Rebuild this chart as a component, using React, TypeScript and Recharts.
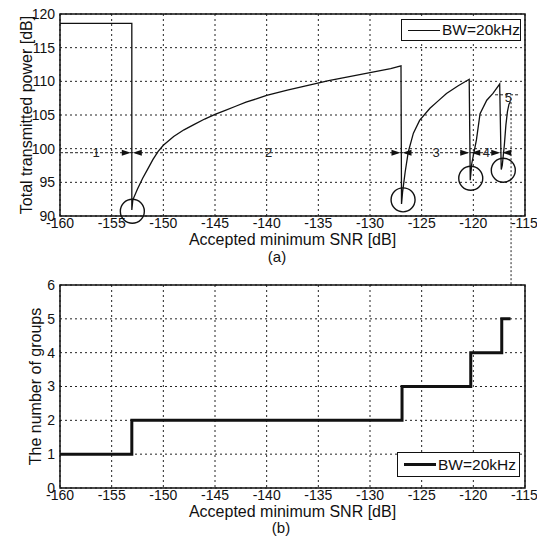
import {
  ComposedChart,
  Line,
  Scatter,
  XAxis,
  YAxis,
  CartesianGrid,
  ReferenceArea,
  ReferenceDot,
  ReferenceLine,
  Legend,
} from "recharts";

const FONT = "'Liberation Sans', Arial, sans-serif";

// axes
const SNR_TICKS = [-160, -155, -150, -145, -140, -135, -130, -125, -120, -115];
const POWER_TICKS = [90, 95, 100, 105, 110, 115, 120];
const GROUP_TICKS = [0, 1, 2, 3, 4, 5, 6];

// (a) total transmitted power vs accepted minimum SNR
const POWER_SNR = [
  -160, -153.05, -153.05, -152.95, -152.5, -152, -151.5, -151, -150.5, -150,
  -149, -148, -147, -146, -145, -144, -143, -142, -141, -140, -138, -136,
  -134, -132, -130, -128, -127.0, -126.95, -126.85, -126.6, -126.3, -125.8,
  -125.2, -124.2, -123.4, -122.6, -121.5, -120.4, -120.3, -120.15, -119.7,
  -119.35, -118.7, -118.1, -117.45, -117.3, -117.2, -117.0, -116.85, -116.7,
  -116.55, -116.4,
];
const POWER_DB = [
  118.6, 118.6, 90.9, 92.4, 94.0, 95.6, 97.0, 98.4, 99.6, 100.5, 101.8,
  102.8, 103.6, 104.4, 105.1, 105.7, 106.3, 106.9, 107.4, 107.9, 108.7,
  109.4, 110.1, 110.7, 111.3, 111.9, 112.3, 91.8, 93.5, 96.5, 99.5, 102.3,
  104.2, 106.0, 107.1, 108.2, 109.3, 110.3, 95.3, 97.8, 101.3, 105.2, 107.2,
  108.2, 109.6, 96.9, 97.5, 100.5, 103.5, 105.5, 106.6, 107.0,
];

// (b) number of groups
const GROUP_SNR = [-160, -153.05, -126.9, -120.25, -117.25, -116.4];
const GROUP_COUNT = [1, 2, 3, 4, 5, 5];

// annotations on (a)
const BOUNDARY_SNR = [-153.05, -126.95, -120.3, -117.3];
const ARROW_DB = 99.4;
const ZONE_SNR = [-156.5, -139.8, -123.6, -118.75];
const ZONE_NAMES = ["1", "2", "3", "4"];
const DIP_SNR = [-153.0, -126.8, -120.25, -117.1];
const DIP_DB = [90.7, 92.4, 95.6, 96.8];

const powerData = POWER_SNR.map((x, i) => ({ x, p: POWER_DB[i] }));
const groupData = GROUP_SNR.map((x, i) => ({ x, g: GROUP_COUNT[i] }));
const arrowData = BOUNDARY_SNR.map((x) => ({ x, y: ARROW_DB }));
const zoneData = ZONE_SNR.map((x, i) => ({ x, y: ARROW_DB, t: ZONE_NAMES[i] }));

const tickStyle = { fill: "#111", fontSize: 14, fontFamily: FONT };
const labelStyle = { fill: "#111", fontSize: 16, fontFamily: FONT };

function ArrowPair(props: any) {
  const { cx, cy } = props;
  return (
    <g fill="#111">
      <polygon points={`${cx - 1},${cy} ${cx - 10},${cy - 3} ${cx - 10},${cy + 3}`} />
      <polygon points={`${cx + 1},${cy} ${cx + 10},${cy - 3} ${cx + 10},${cy + 3}`} />
    </g>
  );
}

function ZoneLabel(props: any) {
  const { cx, cy, payload } = props;
  return (
    <text x={cx} y={cy} dy="0.35em" textAnchor="middle" fontSize={13} fontFamily={FONT} fill="#222">
      {payload.t}
    </text>
  );
}

function LegendBox({ thick }: { thick: boolean }) {
  return (
    <div
      style={{
        boxSizing: "border-box",
        width: "100%",
        height: "100%",
        border: "1.5px solid #111",
        background: "#fff",
        display: "flex",
        alignItems: "center",
        paddingLeft: 6,
        fontFamily: FONT,
        fontSize: 15.5,
        color: "#111",
      }}
    >
      <span
        style={{
          display: "inline-block",
          width: 32,
          height: 0,
          borderTop: `${thick ? 3 : 1}px solid #111`,
          marginRight: 2,
        }}
      />
      BW=20kHz
    </div>
  );
}

export default function App() {
  return (
    <div
      style={{
        position: "absolute",
        left: 0,
        top: 0,
        width: 537,
        height: 544,
        background: "#fff",
      }}
    >
      <div style={{ position: "absolute", left: 0, top: 250 }}>
        <ComposedChart
          width={537}
          height={294}
          margin={{ top: 35, right: 12, bottom: 24, left: 0 }}
        >
          <CartesianGrid stroke="#222" strokeDasharray="2 3" />
          <XAxis
            dataKey="x"
            type="number"
            domain={[-160, -115]}
            ticks={SNR_TICKS}
            axisLine={false}
            tickLine={false}
            tickSize={2}
            tickMargin={0}
            height={32}
            tick={tickStyle}
            label={{ value: "Accepted minimum SNR [dB]", position: "insideBottom", offset: 3, style: labelStyle }}
          />
          <YAxis
            type="number"
            domain={[0, 6]}
            ticks={GROUP_TICKS}
            axisLine={false}
            tickLine={false}
            tickSize={5}
            tickMargin={0}
            width={60}
            tick={tickStyle}
            label={{
              value: "The number of groups",
              angle: -90,
              position: "insideLeft",
              offset: 35,
              style: { ...labelStyle, textAnchor: "middle" },
            }}
          />
          <Line
            data={groupData}
            dataKey="g"
            type="stepAfter"
            stroke="#111"
            strokeWidth={3}
            dot={false}
            isAnimationActive={false}
          />
          <ReferenceArea x1={-160} x2={-115} y1={0} y2={6} fill="none" stroke="#111" strokeWidth={1.5} />
          <Legend
            layout="horizontal"
            verticalAlign="middle"
            align="center"
            content={() => <LegendBox thick />}
            wrapperStyle={{ position: "absolute", left: 397, top: 202, width: 123, height: 25 }}
          />
        </ComposedChart>
      </div>

      <div style={{ position: "absolute", left: 0, top: 0, zIndex: 1 }}>
        <ComposedChart
          width={537}
          height={300}
          margin={{ top: 14, right: 12, bottom: 50, left: 0 }}
        >
          <CartesianGrid stroke="#222" strokeDasharray="2 3" />
          <XAxis
            dataKey="x"
            type="number"
            domain={[-160, -115]}
            ticks={SNR_TICKS}
            axisLine={false}
            tickLine={false}
            tickSize={2}
            tickMargin={0}
            height={34}
            tick={tickStyle}
            label={{ value: "Accepted minimum SNR [dB]", position: "insideBottom", offset: 5, style: labelStyle }}
          />
          <YAxis
            type="number"
            domain={[90, 120]}
            ticks={POWER_TICKS}
            axisLine={false}
            tickLine={false}
            tickSize={5}
            tickMargin={0}
            width={60}
            tick={tickStyle}
            label={{
              value: "Total transmitted power [dB]",
              angle: -90,
              position: "insideLeft",
              offset: 26,
              style: { ...labelStyle, textAnchor: "middle" },
            }}
          />
          <ReferenceLine
            segment={[{ x: -160, y: ARROW_DB }, { x: -117.3, y: ARROW_DB }]}
            stroke="#222"
            strokeDasharray="3 2"
            ifOverflow="visible"
          />
          <ReferenceLine
            segment={[{ x: -117.9, y: 108 }, { x: -115.6, y: 108 }]}
            stroke="#222"
            strokeDasharray="3 2"
            ifOverflow="visible"
          />
          <ReferenceLine
            segment={[{ x: -116.35, y: 107.5 }, { x: -116.35, y: 79.75 }]}
            stroke="#222"
            strokeDasharray="2 2"
            ifOverflow="visible"
          />
          <Line
            data={powerData}
            dataKey="p"
            type="linear"
            stroke="#111"
            strokeWidth={1.3}
            dot={false}
            isAnimationActive={false}
          />
          <Scatter data={arrowData} dataKey="y" shape={ArrowPair} isAnimationActive={false} />
          <Scatter data={zoneData} dataKey="y" shape={ZoneLabel} isAnimationActive={false} />
          <ReferenceDot x={-116.6} y={107.6} r={0} ifOverflow="visible" label={{ value: "5", position: "center", style: { fontSize: 13, fontFamily: FONT, fill: "#222" } }} />
          {DIP_SNR.map((x, i) => (
            <ReferenceDot
              key={x}
              x={x}
              y={DIP_DB[i]}
              r={12}
              fill="none"
              stroke="#111"
              strokeWidth={1.4}
              ifOverflow="visible"
            />
          ))}
          <ReferenceArea x1={-160} x2={-115} y1={90} y2={120} fill="none" stroke="#111" strokeWidth={1.5} />
          <Legend
            layout="horizontal"
            verticalAlign="middle"
            align="center"
            content={() => <LegendBox thick={false} />}
            wrapperStyle={{ position: "absolute", left: 401, top: 19, width: 120, height: 22 }}
          />
        </ComposedChart>
      </div>

      <div
        style={{
          position: "absolute",
          left: 262,
          width: 30,
          top: 248,
          textAlign: "center",
          fontFamily: FONT,
          fontSize: 15,
          color: "#111",
        }}
      >
        (a)
      </div>
      <div
        style={{
          position: "absolute",
          left: 266,
          width: 30,
          top: 519,
          textAlign: "center",
          fontFamily: FONT,
          fontSize: 15,
          color: "#111",
        }}
      >
        (b)
      </div>
    </div>
  );
}
